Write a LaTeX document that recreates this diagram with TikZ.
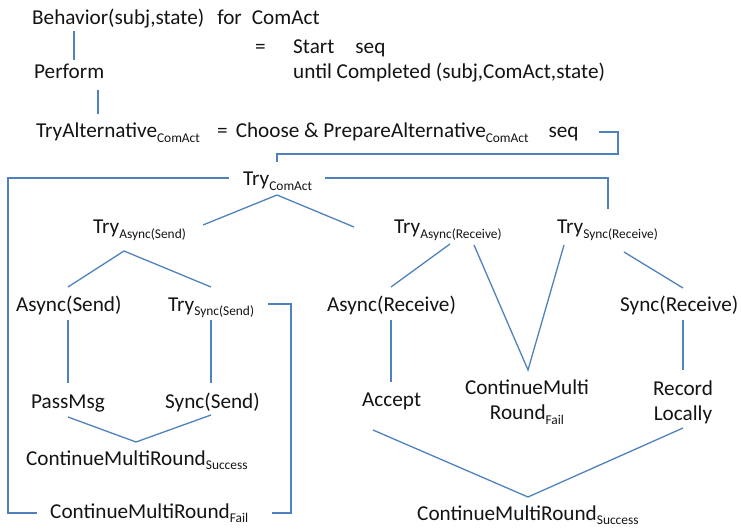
\documentclass[tikz,border=0pt]{standalone}
\usepackage{fontspec}
\setmainfont{Carlito}
\usepackage{tikz}
\usetikzlibrary{calc}
\definecolor{ink}{RGB}{20,20,20}
\definecolor{wire}{RGB}{79,129,189}
\newcommand{\lowtext}[1]{\raisebox{-4.5pt}{\fontsize{13.4}{13.4}\selectfont #1}}

\begin{document}
\begin{tikzpicture}[
  x=1pt, y=-1pt,
  font=\fontsize{21.2}{25}\selectfont,
  txt/.style={anchor=base west, inner sep=0pt, text=ink},
  two/.style={anchor=center, inner sep=0pt, text=ink, align=center},
  link/.style={draw=wire, line width=1.3pt},
]
\useasboundingbox (0,0) rectangle (741,529);

% ---- definition head ----
\node[txt] (beh) at (32,25) {Behavior(subj,state)\hspace{13pt}for\hspace{10pt}ComAct};
\node[txt] (eqA) at (255,54) {=};
\node[txt] (start) at (293,54) {Start\hspace{21pt}seq};
\node[txt] (until) at (293,79) {until Completed (subj,ComAct,state)};
\node[txt] (perf) at (34,79) {Perform};
\node[txt] (talt) at (36,138) {TryAlternative\lowtext{ComAct}};
\node[txt] (tdef) at (217,138) {=\hspace{8pt}Choose \& PrepareAlternative\lowtext{ComAct}\hspace{20pt}seq};

% ---- the try tree ----
\node[txt] (tcom) at (243,186) {Try\lowtext{ComAct}};
\node[txt] (tas) at (93,234) {Try\lowtext{Async(Send)}};
\node[txt] (tar) at (394,234) {Try\lowtext{Async(Receive)}};
\node[txt] (tsr) at (557,234) {Try\lowtext{Sync(Receive)}};
\node[txt] (asnd) at (16,311) {Async(Send)};
\node[txt] (tss) at (168,311) {Try\lowtext{Sync(Send)}};
\node[txt] (arcv) at (327,311) {Async(Receive)};
\node[txt] (srcv) at (620,311) {Sync(Receive)};
\node[txt] (pmsg) at (31,408) {PassMsg};
\node[txt] (ssnd) at (165,408) {Sync(Send)};
\node[txt] (acc) at (362,406) {Accept};
\node[two] (cmfB) at (527,402) {ContinueMulti\\Round\lowtext{Fail}};
\node[two] (rec) at (683,402) {Record\\Locally};
\node[txt] (cms) at (26,465) {ContinueMultiRound\lowtext{Success}};
\node[txt] (cmfA) at (50,518) {ContinueMultiRound\lowtext{Fail}};
\node[txt] (cmsB) at (417,520) {ContinueMultiRound\lowtext{Success}};

% ---- head links ----
\draw[link] ([shift={(42,6)}]beh.base west) -- ([shift={(40,-19)}]perf.base west);
\draw[link] ([shift={(64,11)}]perf.base west) -- ([shift={(62,-24)}]talt.base west);
\draw[link] ([shift={(382,-6)}]tdef.base west) -| ([shift={(401,16)}]tdef.base west)
  -| ([shift={(34,-24)}]tcom.base west);

% ---- frames round the tree ----
\draw[link] ([shift={(-14,-8)}]tcom.base west) -| ([shift={(-42,-5)}]cmfA.base west)
  -- ([shift={(-13,-5)}]cmfA.base west);
\draw[link] ([shift={(82,-8)}]tcom.base west) -| ([shift={(51,-25)}]tsr.base west);
\draw[link] ([shift={(100,-7)}]tss.base west) -| ([shift={(241,-5)}]cmfA.base west)
  -- ([shift={(222,-5)}]cmfA.base west);

% ---- forks ----
\draw[link] ([shift={(110,-9)}]tas.base west) -- ([shift={(34,9)}]tcom.base west)
  -- ([shift={(-40,-7)}]tar.base west);
\draw[link] ([shift={(52,-24)}]asnd.base west) -- ([shift={(31,17)}]tas.base west)
  -- ([shift={(43,-24)}]tss.base west);
\draw[link] ([shift={(52,9)}]asnd.base west) -- ([shift={(37,-25)}]pmsg.base west);
\draw[link] ([shift={(43,9)}]tss.base west) -- ([shift={(46,-25)}]ssnd.base west);
\draw[link] ([shift={(37,9)}]pmsg.base west) -- ([shift={(110,-23)}]cms.base west)
  -- ([shift={(46,7)}]ssnd.base west);

\draw[link] ([shift={(56,10)}]tar.base west) -- ([shift={(64,-24)}]arcv.base west);
\draw[link] ([shift={(80,11)}]tar.base west) -- ([shift={(1,-32)}]cmfB.center)
  -- ([shift={(7,11)}]tsr.base west);
\draw[link] ([shift={(67,18)}]tsr.base west) -- ([shift={(63,-23)}]srcv.base west);
\draw[link] ([shift={(64,9)}]arcv.base west) -- ([shift={(29,-24)}]acc.base west);
\draw[link] ([shift={(63,9)}]srcv.base west) -- ([shift={(0,-32)}]rec.center);
\draw[link] ([shift={(11,24)}]acc.base west) -- ([shift={(111,-23)}]cmsB.base west)
  -- ([shift={(0,26)}]rec.center);

\end{tikzpicture}
\end{document}
